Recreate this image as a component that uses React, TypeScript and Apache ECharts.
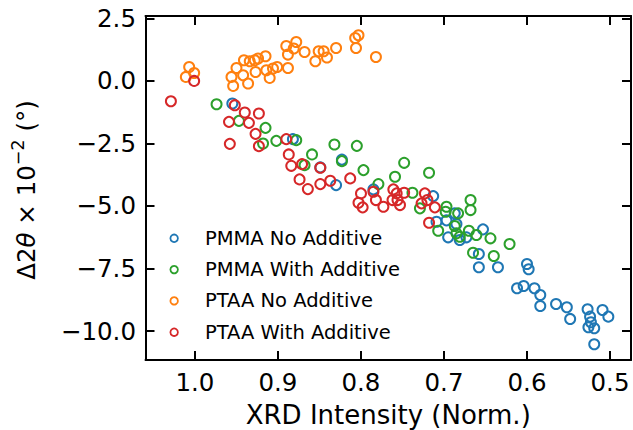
import React, { useEffect, useRef } from "react";
import * as echarts from "echarts";

const FONT = "DejaVu Sans";

const seriesNames = [
  "PMMA No Additive",
  "PMMA With Additive",
  "PTAA No Additive",
  "PTAA With Additive",
];
const seriesColors = ["#1f77b4", "#2ca02c", "#ff7f0e", "#d62728"];

const pmmaNo: number[][] = [
  [0.955, -0.903], [0.882, -2.328], [0.823, -3.147], [0.849, -3.458], [0.83, -4.165],
  [0.785, -4.337], [0.713, -4.605], [0.709, -5.631], [0.697, -5.575], [0.685, -5.723],
  [0.687, -5.296], [0.695, -6.254], [0.681, -6.362], [0.673, -6.254], [0.653, -5.935],
  [0.658, -6.921], [0.658, -7.452], [0.635, -7.452], [0.6, -7.32], [0.598, -7.532],
  [0.612, -8.291], [0.604, -8.199], [0.591, -8.291], [0.584, -8.558], [0.584, -8.998],
  [0.565, -8.918], [0.552, -9.05], [0.548, -9.517], [0.527, -9.13], [0.524, -9.425],
  [0.523, -9.649], [0.526, -9.848], [0.519, -9.888], [0.509, -9.158], [0.502, -9.425],
  [0.519, -10.527],
];

const pmmaWith: number[][] = [
  [0.974, -0.931], [0.947, -1.597], [0.915, -1.877], [0.918, -2.5], [0.902, -2.396],
  [0.878, -2.368], [0.859, -2.939], [0.868, -3.367], [0.832, -2.54], [0.805, -2.596],
  [0.823, -3.207], [0.797, -3.566], [0.748, -3.275], [0.759, -3.834], [0.779, -4.125],
  [0.718, -3.674], [0.738, -4.473], [0.729, -5.096], [0.697, -5.032], [0.698, -5.232],
  [0.683, -5.296], [0.668, -4.764], [0.668, -5.164], [0.707, -5.99], [0.687, -5.803],
  [0.685, -6.094], [0.67, -5.99], [0.661, -6.162], [0.644, -6.294], [0.621, -6.522],
  [0.665, -6.869], [0.64, -7.001], [0.681, -6.23],
];

const ptaaNo: number[][] = [
  [1.007, 0.559], [1.001, 0.319], [1.011, 0.16], [0.956, 0.16], [0.954, -0.2],
  [0.95, 0.519], [0.941, 0.827], [0.936, -0.104], [0.942, 0.228], [0.927, 0.359],
  [0.928, 0.827], [0.924, 0.895], [0.915, 0.986], [0.914, 0.427], [0.91, 0.12],
  [0.901, 0.559], [0.888, 0.519], [0.89, 1.398], [0.888, 1.054], [0.878, 1.558],
  [0.881, 1.294], [0.868, 1.158], [0.855, 0.787], [0.851, 1.186], [0.845, 1.186],
  [0.841, 0.935], [0.83, 1.318], [0.807, 1.717], [0.803, 1.825], [0.806, 1.318],
  [0.782, 0.958], [0.934, 0.787], [0.906, 0.495],
];

const ptaaWith: number[][] = [
  [1.029, -0.811], [1.001, 0.0], [0.952, -0.97], [0.94, -1.262], [0.923, -1.302],
  [0.959, -1.637], [0.935, -1.677], [0.927, -2.117], [0.958, -2.516], [0.923, -2.608],
  [0.89, -2.328], [0.887, -2.939], [0.884, -3.395], [0.871, -3.327], [0.849, -3.474],
  [0.874, -3.938], [0.864, -4.325], [0.849, -4.125], [0.837, -3.994], [0.813, -3.898],
  [0.8, -4.497], [0.803, -4.872], [0.798, -5.056], [0.785, -4.433], [0.782, -4.764],
  [0.773, -5.032], [0.761, -4.337], [0.762, -4.764], [0.756, -4.764], [0.753, -4.964],
  [0.748, -4.473], [0.757, -4.497], [0.723, -4.497], [0.727, -4.896], [0.72, -4.764],
  [0.711, -5.056], [0.718, -5.671],
];

const seriesData = [pmmaNo, pmmaWith, ptaaNo, ptaaWith];

const xTicks = [0.5, 0.6, 0.7, 0.8, 0.9, 1.0];
const yTicks = [-10, -7.5, -5, -2.5, 0, 2.5];
const xMin = 0.4747;
const xMax = 1.0596;
const yMin = -11.159;
const yMax = 2.596;

const fmt = (v: number) => {
  const s = Math.abs(v).toFixed(1);
  return v < 0 ? "\u2212" + s : s;
};

const axisLineStyle = { color: "#000", width: 2 };

export default function App() {
  const ref = useRef<HTMLDivElement>(null);
  useEffect(() => {
    if (!ref.current) return;
    const chart = echarts.init(ref.current, null, { renderer: "svg" });
    const xBase = {
      type: "value" as const,
      min: xMin,
      max: xMax,
      inverse: true,
      splitLine: { show: false },
      axisLine: { show: true, onZero: false, lineStyle: axisLineStyle },
      axisTick: { show: true, inside: true, length: 9, lineStyle: axisLineStyle, customValues: xTicks },
    };
    const yBase = {
      type: "value" as const,
      min: yMin,
      max: yMax,
      splitLine: { show: false },
      axisLine: { show: true, onZero: false, lineStyle: axisLineStyle },
      axisTick: { show: true, inside: true, length: 9, lineStyle: axisLineStyle, customValues: yTicks },
    };
    chart.setOption({
      animation: false,
      backgroundColor: "#fff",
      grid: { left: 145.5, top: 16, right: 2, bottom: 70, containLabel: false, outerBoundsMode: "none" },
      xAxis: [
        {
          ...xBase,
          position: "bottom",
          name: "XRD Intensity (Norm.)",
          nameLocation: "middle",
          nameGap: 42,
          nameTextStyle: { fontFamily: FONT, fontSize: 26, color: "#000" },
          axisLabel: {
            show: true,
            margin: 10,
            fontFamily: FONT,
            fontSize: 24.5,
            color: "#000",
            customValues: xTicks,
            formatter: (v: number) => v.toFixed(1),
          },
        },
        { ...xBase, position: "top", axisLabel: { show: false } },
      ],
      yAxis: [
        {
          ...yBase,
          position: "left",
          axisLabel: {
            show: true,
            margin: 9.5,
            fontFamily: FONT,
            fontSize: 24.5,
            color: "#000",
            customValues: yTicks,
            formatter: (v: number) => fmt(v),
          },
        },
        { ...yBase, position: "right", axisLabel: { show: false } },
      ],
      legend: {
        orient: "vertical",
        left: 169.5,
        top: 228.3,
        padding: 0,
        itemGap: 11.3,
        itemWidth: 7.5,
        itemHeight: 7.5,
        icon: "circle",
        itemStyle: { borderWidth: 1.8 },
        textStyle: { fontFamily: FONT, fontSize: 19.5, color: "#000", padding: [0, 0, 0, 22] },
        data: seriesNames,
      },
      graphic: [
        {
          type: "text",
          x: 26,
          y: 190,
          rotation: Math.PI / 2,
          style: {
            text: "{n|\u03942}{i|\u03b8}{n| \u00d7 10}{s|\u22122}{n| (\u00b0)}",
            align: "center",
            verticalAlign: "middle",
            fill: "#000",
            rich: {
              n: { fontFamily: FONT, fontSize: 24.5, lineHeight: 34, fill: "#000" },
              i: { fontFamily: FONT, fontSize: 24.5, lineHeight: 34, fontStyle: "italic", fill: "#000" },
              s: { fontFamily: FONT, fontSize: 17.5, lineHeight: 17.5, verticalAlign: "top", fill: "#000" },
            },
          },
        },
      ],
      series: seriesNames.map((name, i) => ({
        name,
        type: "scatter",
        xAxisIndex: 0,
        yAxisIndex: 0,
        symbol: "circle",
        symbolSize: 10,
        data: seriesData[i],
        itemStyle: { color: "rgba(0,0,0,0)", borderColor: seriesColors[i], borderWidth: 2, opacity: 1 },
        emphasis: { disabled: true },
      })),
    });
    return () => chart.dispose();
  }, []);
  return (
    <div
      ref={ref}
      style={{ position: "fixed", left: 0, top: 0, width: 633, height: 430, background: "#fff" }}
    />
  );
}
